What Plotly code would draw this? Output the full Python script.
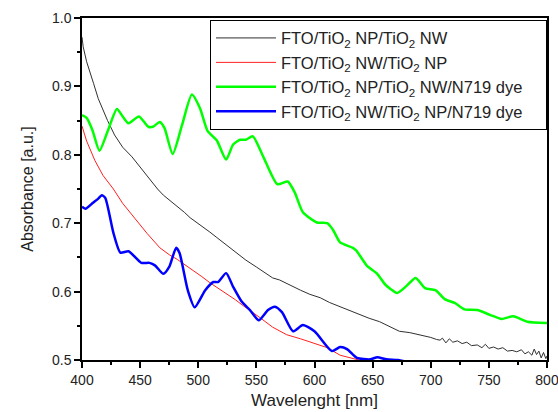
import plotly.graph_objects as go

# ---- data ----
names = [
    "FTO/TiO<sub>2</sub> NP/TiO<sub>2</sub> NW",
    "FTO/TiO<sub>2</sub> NW/TiO<sub>2</sub> NP",
    "FTO/TiO<sub>2</sub> NP/TiO<sub>2</sub> NW/N719 dye",
    "FTO/TiO<sub>2</sub> NW/TiO<sub>2</sub> NP/N719 dye",
]
legend_pad = "&nbsp;" * 4

black_wl = [400, 401, 404, 407, 410, 414, 418, 422, 428, 431, 435, 443, 452, 460, 465, 470,
            476, 482, 488, 493, 499, 504, 510, 516, 524, 533, 541, 550, 557, 564, 570, 579,
            588, 596, 605, 613, 622, 630, 639, 647, 656, 664, 673, 682, 691, 700, 705, 708,
            710, 713, 716, 719, 723, 727, 731, 735, 740, 744, 747, 750, 754, 758, 762, 766,
            770, 774, 778, 781, 784, 787, 789, 791, 793, 795, 797, 799, 800]
black_abs = [0.972, 0.958, 0.936, 0.918, 0.904, 0.882, 0.866, 0.850, 0.829, 0.822, 0.811, 0.797,
             0.778, 0.760, 0.750, 0.741, 0.733, 0.725, 0.716, 0.708, 0.701, 0.694, 0.687, 0.679,
             0.668, 0.656, 0.646, 0.636, 0.628, 0.620, 0.617, 0.609, 0.602, 0.596, 0.591, 0.584,
             0.578, 0.572, 0.566, 0.561, 0.556, 0.549, 0.542, 0.540, 0.537, 0.533, 0.530, 0.529,
             0.532, 0.525, 0.531, 0.526, 0.528, 0.524, 0.526, 0.521, 0.522, 0.518, 0.523, 0.517,
             0.519, 0.516, 0.518, 0.513, 0.514, 0.512, 0.515, 0.509, 0.512, 0.507, 0.516, 0.508,
             0.513, 0.503, 0.511, 0.502, 0.506]

red_wl = [400, 402, 404, 408, 411, 418, 427, 435, 445, 456, 467, 475, 482, 494, 503, 510, 517,
          525, 532, 539, 546, 553, 564, 576, 588, 599, 611, 622, 631, 638, 645]
red_abs = [0.842, 0.830, 0.820, 0.804, 0.792, 0.770, 0.750, 0.729, 0.708, 0.685, 0.664, 0.654,
           0.647, 0.633, 0.622, 0.613, 0.605, 0.597, 0.588, 0.579, 0.571, 0.562, 0.548, 0.537,
           0.531, 0.525, 0.518, 0.507, 0.503, 0.500, 0.497]

green_wl = [400, 404, 409, 415, 422, 430, 435, 440, 449, 457, 461, 467, 471, 478, 486, 494.5,
            501.5, 508, 516, 524, 530, 536, 541, 547, 556, 568, 577, 583, 590, 602, 611, 616,
            622, 633, 636, 645, 654, 661, 671, 679, 687, 695, 704, 712, 721, 729, 740, 751,
            761, 771, 783, 800]
green_abs = [0.858, 0.854, 0.836, 0.806, 0.834, 0.867, 0.856, 0.846, 0.856, 0.841, 0.841, 0.848,
             0.839, 0.801, 0.843, 0.888, 0.868, 0.835, 0.821, 0.793, 0.815, 0.822, 0.822, 0.827,
             0.797, 0.757, 0.761, 0.745, 0.716, 0.701, 0.700, 0.690, 0.672, 0.664, 0.660, 0.638,
             0.626, 0.610, 0.598, 0.608, 0.620, 0.605, 0.602, 0.589, 0.583, 0.574, 0.573, 0.566,
             0.560, 0.564, 0.556, 0.554]

blue_wl = [400, 403, 409.5, 414, 417, 420, 427, 433, 440, 451, 458, 463, 470, 475, 481, 484,
           491, 497, 506, 513, 517, 524, 530, 537.5, 544.5, 552, 560, 566, 572, 581.5, 590, 600,
           615, 622, 628, 636.5, 648, 654, 662, 672, 680]
blue_abs = [0.724, 0.721, 0.730, 0.736, 0.741, 0.737, 0.686, 0.657, 0.659, 0.642, 0.642, 0.638,
            0.626, 0.636, 0.664, 0.656, 0.602, 0.577, 0.602, 0.614, 0.614, 0.627, 0.607, 0.585,
            0.573, 0.558, 0.573, 0.578, 0.570, 0.542, 0.551, 0.542, 0.513, 0.519, 0.516, 0.503,
            0.501, 0.504, 0.501, 0.500, 0.497]

x_ticks = [400, 450, 500, 550, 600, 650, 700, 750, 800]
y_ticks = [0.5, 0.6, 0.7, 0.8, 0.9, 1.0]

fig = go.Figure()
fig.add_trace(go.Scatter(x=black_wl, y=black_abs, mode="lines", name=names[0] + legend_pad,
                         line=dict(color="#303030", width=1)))
fig.add_trace(go.Scatter(x=red_wl, y=red_abs, mode="lines", name=names[1] + legend_pad,
                         line=dict(color="#ff2020", width=1)))
fig.add_trace(go.Scatter(x=green_wl, y=green_abs, mode="lines", name=names[2] + legend_pad,
                         line=dict(color="#00ff00", width=2.5, shape="spline", smoothing=0.6)))
fig.add_trace(go.Scatter(x=blue_wl, y=blue_abs, mode="lines", name=names[3] + legend_pad,
                         line=dict(color="#0000ff", width=2.5, shape="spline", smoothing=0.6)))

axis_common = dict(
    showgrid=False, zeroline=False, showline=True, linecolor="black", linewidth=1.5,
    mirror=True, ticks="outside", ticklen=6, tickwidth=1.5, tickcolor="black",
    automargin=False, ticklabeloverflow="allow",
    tickfont=dict(family="Liberation Sans, Arial", size=14, color="#222"),
)

fig.update_layout(
    template="none",
    width=558, height=412,
    margin=dict(l=82, r=11, t=18, b=52),
    paper_bgcolor="white", plot_bgcolor="white",
    font=dict(family="Liberation Sans, Arial", color="#222"),
    xaxis=dict(range=[400, 800], tickvals=x_ticks,
               minor=dict(dtick=25, tick0=400, ticks="outside", ticklen=3, tickwidth=1.5,
                          tickcolor="black"),
               title=dict(text="Wavelenght [nm]", font=dict(size=17), standoff=8),
               **axis_common),
    yaxis=dict(range=[0.5, 1.0], tickvals=y_ticks, tickformat=".1f",
               minor=dict(dtick=0.05, tick0=0.5, ticks="outside", ticklen=3, tickwidth=1.5,
                          tickcolor="black"),
               title=dict(text="Absorbance [a.u.]", font=dict(size=16), standoff=14),
               **axis_common),
    legend=dict(x=1, xanchor="right", y=0.995, yanchor="top",
                bgcolor="white", bordercolor="black", borderwidth=1,
                font=dict(family="Liberation Sans, Arial", size=16.5, color="#222"),
                itemwidth=60, tracegroupgap=0),
    showlegend=True,
)

fig.write_html("out.html", config={"displayModeBar": False},
               post_script="document.body.style.margin='0';document.body.style.overflow='hidden';")
